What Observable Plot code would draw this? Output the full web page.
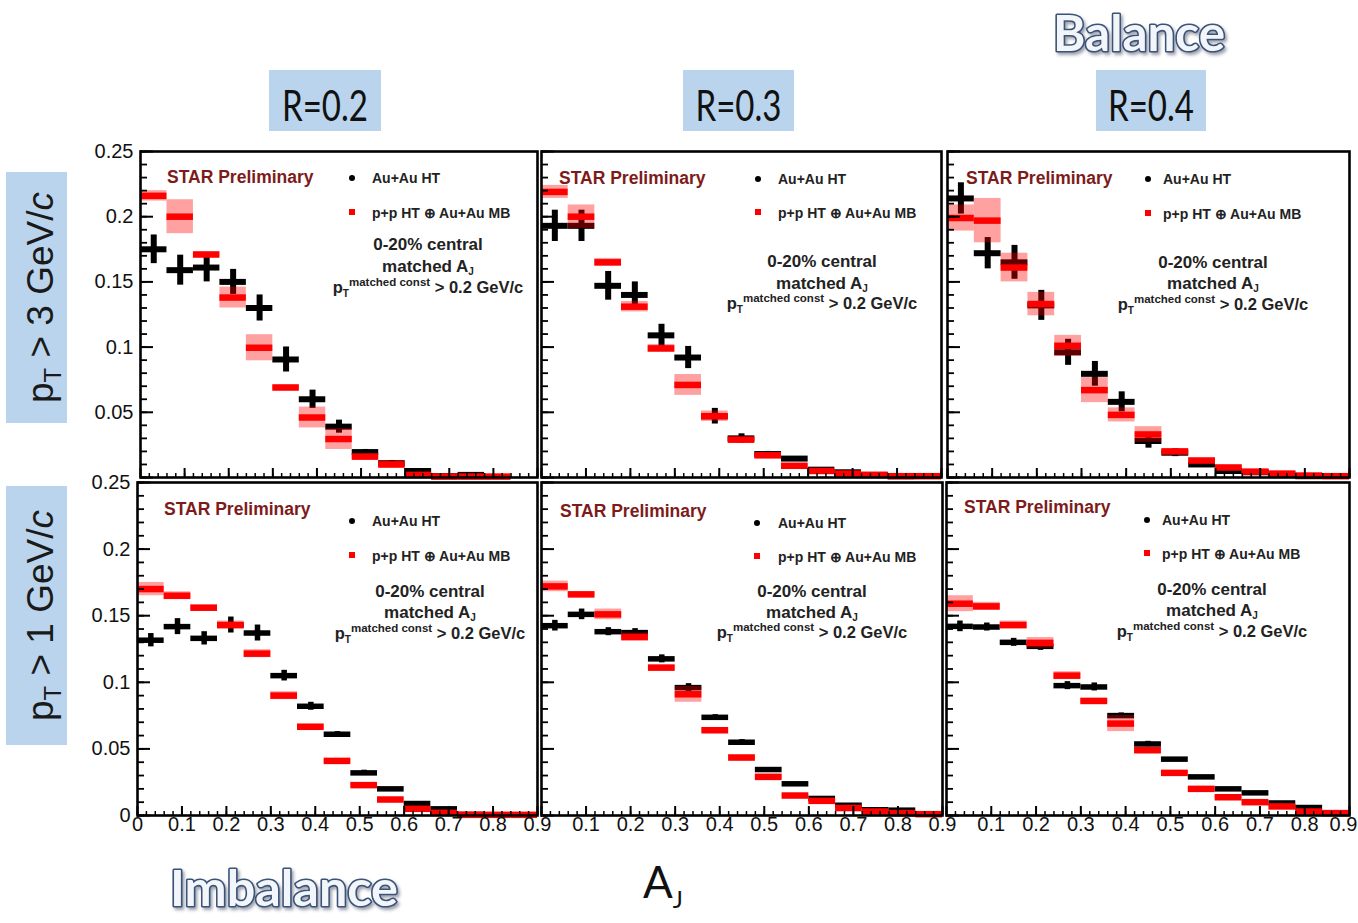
<!DOCTYPE html>
<html>
<head>
<meta charset="utf-8">
<script src="https://cdn.jsdelivr.net/npm/d3@7"></script>
<script src="https://cdn.jsdelivr.net/npm/@observablehq/plot@0.6"></script>
<style>
  body { margin: 0; background: #fff; }
  #page { position: relative; width: 1358px; height: 923px; overflow: hidden; background: #fff; }
  #page > svg { position: absolute; }
</style>
</head>
<body>
<div id="page"></div>
<script>
// ---- A_J binning (15 bins of width 0.06 between 0 and 0.9) ----
const ajBinCenters = [0.03, 0.09, 0.15, 0.21, 0.27, 0.33, 0.39, 0.45, 0.51, 0.57, 0.63, 0.69, 0.75, 0.81, 0.87];
const ajBinWidth = 0.06;

// ---- axis ticks ----
const yTickValues = [0, 0.05, 0.1, 0.15, 0.2, 0.25];
const xTickValues = [0, 0.1, 0.2, 0.3, 0.4, 0.5, 0.6, 0.7, 0.8, 0.9];

// ---- row / column labels ----
const radiusLabels = ["R=0.2", "R=0.3", "R=0.4"];
const ptCutLabels = ["3", "1"];

// ---- R=0.2, constituent pT > 3 GeV/c ----
const auauHT_R02_pt3   = [0.175, 0.159, 0.161, 0.150, 0.130, 0.0905, 0.060, 0.039, 0.0195, 0.011, 0.005, 0.001, 0.002, null, null];
const auauStat_R02_pt3 = [0.011, 0.0115, 0.011, 0.0096, 0.010, 0.0096, 0.007, 0.005, 0.002, 0.002, 0.001, 0.001, 0.001, 0, 0];
const ppEmb_R02_pt3    = [0.216, 0.200, 0.171, 0.138, 0.0995, 0.069, 0.046, 0.0295, 0.016, 0.010, 0.002, 0.0007, 0.0007, 0.0007, null];
const ppSys_R02_pt3    = [0.004, 0.013, 0.002, 0.008, 0.010, 0.002, 0.008, 0.008, 0.002, 0.003, 0.001, 0, 0, 0, 0];

// ---- R=0.3, constituent pT > 3 GeV/c ----
const auauHT_R03_pt3   = [0.193, 0.193, 0.147, 0.140, 0.109, 0.092, 0.047, 0.030, 0.018, 0.0145, 0.006, 0.004, 0.002, 0.001, null];
const auauStat_R03_pt3 = [0.012, 0.012, 0.011, 0.010, 0.0085, 0.0085, 0.006, 0.0035, 0.002, 0.0015, 0.001, 0.001, 0.001, 0, 0];
const ppEmb_R03_pt3    = [0.219, 0.200, 0.165, 0.131, 0.099, 0.071, 0.047, 0.029, 0.017, 0.009, 0.005, 0.003, 0.002, 0.001, 0.001];
const ppSys_R03_pt3    = [0.005, 0.009, 0.003, 0.004, 0.003, 0.008, 0.004, 0.002, 0.002, 0.001, 0.001, 0.001, 0, 0, 0];

// ---- R=0.4, constituent pT > 3 GeV/c ----
const auauHT_R04_pt3   = [0.214, 0.172, 0.165, 0.132, 0.096, 0.0795, 0.058, 0.028, 0.019, 0.010, 0.005, 0.004, 0.0025, 0.001, null];
const auauStat_R04_pt3 = [0.012, 0.012, 0.013, 0.0115, 0.010, 0.0095, 0.0077, 0.0055, 0.003, 0.002, 0.001, 0.001, 0, 0, 0];
const ppEmb_R04_pt3    = [0.199, 0.197, 0.161, 0.133, 0.101, 0.067, 0.048, 0.033, 0.020, 0.013, 0.0077, 0.0045, 0.003, 0.0015, 0.001];
const ppSys_R04_pt3    = [0.010, 0.017, 0.011, 0.009, 0.008, 0.0096, 0.0054, 0.006, 0.002, 0.002, 0.001, 0.001, 0, 0, 0];

// ---- R=0.2, constituent pT > 1 GeV/c ----
const auauHT_R02_pt1   = [0.1316, 0.1418, 0.133, 0.143, 0.137, 0.105, 0.082, 0.061, 0.032, 0.020, 0.009, 0.005, 0.0008, null, null];
const auauStat_R02_pt1 = [0.005, 0.006, 0.005, 0.006, 0.006, 0.004, 0.003, 0.002, 0.002, 0.001, 0.001, 0.001, 0, 0, 0];
const ppEmb_R02_pt1    = [0.170, 0.165, 0.156, 0.143, 0.1215, 0.090, 0.0666, 0.041, 0.0228, 0.012, 0.005, 0.002, 0.0005, 0.0005, 0.0005];
const ppSys_R02_pt1    = [0.005, 0.003, 0.002, 0.003, 0.003, 0.003, 0.002, 0.001, 0.001, 0.001, 0.001, 0, 0, 0, 0];

// ---- R=0.3, constituent pT > 1 GeV/c ----
const auauHT_R03_pt1   = [0.1425, 0.151, 0.138, 0.1373, 0.1176, 0.096, 0.0737, 0.055, 0.0345, 0.0238, 0.0128, 0.0077, 0.0043, 0.004, null];
const auauStat_R03_pt1 = [0.004, 0.004, 0.003, 0.003, 0.003, 0.003, 0.002, 0.002, 0.001, 0.001, 0.001, 0.001, 0, 0, 0];
const ppEmb_R03_pt1    = [0.172, 0.166, 0.151, 0.134, 0.111, 0.091, 0.064, 0.0435, 0.029, 0.015, 0.011, 0.0056, 0.003, 0.0018, 0.001];
const ppSys_R03_pt1    = [0.004, 0.002, 0.004, 0.003, 0.002, 0.006, 0.002, 0.002, 0.002, 0.001, 0.001, 0.001, 0, 0, 0];

// ---- R=0.4, constituent pT > 1 GeV/c ----
const auauHT_R04_pt1   = [0.142, 0.1415, 0.130, 0.127, 0.0975, 0.0965, 0.075, 0.0537, 0.0423, 0.029, 0.020, 0.017, 0.0094, 0.006, null];
const auauStat_R04_pt1 = [0.004, 0.003, 0.003, 0.003, 0.003, 0.003, 0.002, 0.002, 0.001, 0.001, 0.001, 0.001, 0.001, 0, 0];
const ppEmb_R04_pt1    = [0.159, 0.157, 0.143, 0.1296, 0.105, 0.086, 0.069, 0.049, 0.032, 0.020, 0.0137, 0.010, 0.0068, 0.003, 0.0018];
const ppSys_R04_pt1    = [0.006, 0.003, 0.003, 0.004, 0.003, 0.002, 0.006, 0.002, 0.001, 0.001, 0.001, 0.001, 0, 0, 0];

// ---- panel definitions: data series + frame placement on the page ----
const panels = [
  {row: 0, col: 0, auau: auauHT_R02_pt3, auauErr: auauStat_R02_pt3, pp: ppEmb_R02_pt3, ppErr: ppSys_R02_pt3,
   frame: [140, 151, 537, 477], note: {star: [27, 26], leg: [212, 27, 61, 20], block: [288, 93, 115, 136]}},
  {row: 0, col: 1, auau: auauHT_R03_pt3, auauErr: auauStat_R03_pt3, pp: ppEmb_R03_pt3, ppErr: ppSys_R03_pt3,
   frame: [541, 151, 941, 477], note: {star: [18, 27], leg: [217, 28, 61, 20], block: [281, 110, 132, 152]}},
  {row: 0, col: 2, auau: auauHT_R04_pt3, auauErr: auauStat_R04_pt3, pp: ppEmb_R04_pt3, ppErr: ppSys_R04_pt3,
   frame: [947, 151, 1349, 477], note: {star: [19, 27], leg: [201, 28, 62, 15], block: [266, 111, 132, 153]}},
  {row: 1, col: 0, auau: auauHT_R02_pt1, auauErr: auauStat_R02_pt1, pp: ppEmb_R02_pt1, ppErr: ppSys_R02_pt1,
   frame: [137, 482, 537, 815], note: {star: [27, 27], leg: [215, 39, 73, 20], block: [293, 109, 130, 151]}},
  {row: 1, col: 1, auau: auauHT_R03_pt1, auauErr: auauStat_R03_pt1, pp: ppEmb_R03_pt1, ppErr: ppSys_R03_pt1,
   frame: [541, 482, 942, 815], note: {star: [19, 29], leg: [216, 41, 74, 21], block: [271, 109, 130, 150]}},
  {row: 1, col: 2, auau: auauHT_R04_pt1, auauErr: auauStat_R04_pt1, pp: ppEmb_R04_pt1, ppErr: ppSys_R04_pt1,
   frame: [946, 482, 1349, 815], note: {star: [18, 25], leg: [201, 38, 71, 15], block: [266, 107, 128, 149]}}
];

const sansFont = "Liberation Sans, Arial, Helvetica, sans-serif";
const slideFont = "Lato, 'Open Sans', sans-serif";
const page = document.getElementById("page");

// ---- page decorations: column / row labels and the slide captions ----
const deco = d3.select(page).append("svg")
  .attr("width", 1358).attr("height", 923)
  .style("left", "0px").style("top", "0px");

const defs = deco.append("defs");
defs.append("filter").attr("id", "soft-shadow")
  .attr("x", "-10%").attr("y", "-20%").attr("width", "130%").attr("height", "150%")
  .append("feDropShadow").attr("dx", 2).attr("dy", 2.5).attr("stdDeviation", 1.6)
  .attr("flood-color", "#2a3550").attr("flood-opacity", 0.45);

const radiusBoxes = [[269, 112], [683, 111], [1096, 110]];
radiusLabels.forEach((label, i) => {
  const [bx, bw] = radiusBoxes[i];
  deco.append("rect").attr("x", bx).attr("y", 70).attr("width", bw).attr("height", 61).attr("fill", "#b9d4ec");
  deco.append("text").attr("x", bx + bw / 2).attr("y", 121)
    .attr("text-anchor", "middle").attr("font-family", slideFont).attr("font-size", 42)
    .attr("textLength", 86).attr("lengthAdjust", "spacingAndGlyphs")
    .attr("fill", "#111").text(label);
});

const ptBoxes = [[172, 251], [486, 259]];
ptCutLabels.forEach((cut, i) => {
  const [by, bh] = ptBoxes[i];
  deco.append("rect").attr("x", 6).attr("y", by).attr("width", 61).attr("height", bh).attr("fill", "#b9d4ec");
  const t = deco.append("text")
    .attr("transform", `translate(53,${by + bh / 2}) rotate(-90)`)
    .attr("text-anchor", "middle").attr("font-family", sansFont).attr("font-size", 37).attr("fill", "#1a1a1a");
  t.append("tspan").text("p");
  t.append("tspan").attr("font-size", 24).attr("dy", 8).text("T");
  t.append("tspan").attr("dy", -8).text(` > ${cut} GeV/`);
  t.append("tspan").attr("font-style", "italic").text("c");
});

function wordArt(text, x, y, width) {
  deco.append("text").attr("x", x).attr("y", y)
    .attr("text-anchor", "middle").attr("font-family", slideFont).attr("font-weight", "bold")
    .attr("font-size", 50).attr("textLength", width).attr("lengthAdjust", "spacingAndGlyphs")
    .attr("fill", "#f2f6fb").attr("stroke", "#3a5277").attr("stroke-width", 3.2)
    .attr("paint-order", "stroke").attr("stroke-linejoin", "round")
    .attr("filter", "url(#soft-shadow)").text(text);
}
wordArt("Balance", 1139, 51, 172);
wordArt("Imbalance", 284, 906, 228);

const ajTitle = deco.append("text").attr("x", 643).attr("y", 898)
  .attr("font-family", slideFont).attr("font-size", 44).attr("fill", "#111");
ajTitle.append("tspan").text("A");
ajTitle.append("tspan").attr("font-size", 24).attr("dy", 10).text("J");

// ---- one STAR-style histogram panel ----
function binRows(vals, errs) {
  return ajBinCenters
    .map((c, i) => ({x: c, x1: c - ajBinWidth / 2, x2: c + ajBinWidth / 2, y: vals[i], e: errs[i]}))
    .filter(d => d.y != null);
}

function drawPanel(p) {
  const [fx0, fy0, fx1, fy1] = p.frame;
  const W = fx1 - fx0, H = fy1 - fy0;
  const mL = p.col === 0 ? 55 : 2;
  const mR = p.row === 0 ? 3 : 16;
  const mT = 12, mB = p.row === 0 ? 3 : 30;
  const au = binRows(p.auau, p.auauErr);
  const pp = binRows(p.pp, p.ppErr);
  const barW = p.row === 0 ? 6 : 5.5;

  const marks = [
    // Au+Au HT: statistical error bars and bin-wide markers
    Plot.ruleX(au, {x: "x", y1: d => d.y - d.e, y2: d => d.y + d.e, stroke: "#000", strokeWidth: barW}),
    Plot.ruleY(au, {y: "y", x1: "x1", x2: "x2", stroke: "#000", strokeWidth: barW}),
    // p+p HT embedded: systematic boxes and bin-wide markers
    Plot.rect(pp.filter(d => d.e > 0), {x1: "x1", x2: "x2", y1: d => d.y - d.e, y2: d => d.y + d.e,
      fill: "#ff0000", fillOpacity: 0.37}),
    Plot.ruleY(pp, {y: "y", x1: "x1", x2: "x2", stroke: "#ff0000", strokeWidth: 6.5}),
    // inward ticks along the left and bottom edges
    Plot.tickY(d3.range(0, 0.2501, 0.01), {y: d => d, stroke: "#000", strokeWidth: 1.8, insetRight: W - 7}),
    Plot.tickY(yTickValues, {y: d => d, stroke: "#000", strokeWidth: 2, insetRight: W - 13}),
    Plot.tickX(d3.range(0, 0.9001, 0.02), {x: d => d, stroke: "#000", strokeWidth: 1.5, insetTop: H - 4}),
    Plot.tickX(xTickValues, {x: d => d, stroke: "#000", strokeWidth: 2, insetTop: H - 9}),
    Plot.frame({stroke: "#000", strokeWidth: 2.6})
  ];
  if (p.col === 0) {
    // the zero label of the upper row sits under the lower panel, so only the lower row shows it
    const yLabels = p.row === 0 ? yTickValues.filter(v => v > 0) : yTickValues;
    marks.push(Plot.text(yLabels, {y: d => d, text: d => String(d), frameAnchor: "left", dx: -7,
      textAnchor: "end", fontSize: 20, fontFamily: sansFont, fill: "#111"}));
  }
  if (p.row === 1) {
    // neighbouring panels share the 0.9 / 0 boundary; the shared edge keeps the 0.9 label
    const xLabels = p.col === 0 ? xTickValues : xTickValues.filter(v => v > 0);
    const lastCol = p.col === 2;
    const inner = lastCol ? xLabels.filter(v => v < 0.9) : xLabels;
    marks.push(Plot.text(inner, {x: d => d, text: d => String(d), frameAnchor: "bottom", dy: 15,
      fontSize: 20, fontFamily: sansFont, fill: "#111"}));
    if (lastCol) {
      // the rightmost label is nudged inward so it stays on the page
      marks.push(Plot.text([0.9], {x: d => d, text: d => String(d), frameAnchor: "bottom", dy: 15, dx: -6,
        fontSize: 20, fontFamily: sansFont, fill: "#111"}));
    }
  }

  const svg = Plot.plot({
    width: W + mL + mR, height: H + mT + mB,
    marginLeft: mL, marginRight: mR, marginTop: mT, marginBottom: mB,
    x: {domain: [0, 0.9], axis: null},
    y: {domain: [0, 0.25], axis: null},
    marks
  });
  svg.style.position = "absolute";
  svg.style.left = (fx0 - mL) + "px";
  svg.style.top = (fy0 - mT) + "px";
  svg.style.background = "transparent";
  svg.style.overflow = "hidden";
  svg.style.maxWidth = "none";

  // in-frame annotations and legend
  const n = p.note;
  const g = d3.select(svg).append("g")
    .attr("transform", `translate(${mL},${mT})`)
    .attr("text-anchor", "start")
    .attr("font-family", sansFont).attr("font-weight", "bold");
  g.append("text").attr("x", n.star[0]).attr("y", n.star[1] + 6)
    .attr("font-size", 17.5).attr("fill", "#7d1b1b").text("STAR Preliminary");
  g.append("circle").attr("cx", n.leg[0]).attr("cy", n.leg[1]).attr("r", 3).attr("fill", "#000");
  g.append("text").attr("x", n.leg[0] + n.leg[3]).attr("y", n.leg[1] + 5)
    .attr("font-size", 14).attr("fill", "#222").text("Au+Au HT");
  g.append("rect").attr("x", n.leg[0] - 3).attr("y", n.leg[2] - 3).attr("width", 6).attr("height", 6).attr("fill", "#ff0000");
  g.append("text").attr("x", n.leg[0] + n.leg[3]).attr("y", n.leg[2] + 6)
    .attr("font-size", 14).attr("fill", "#222").text("p+p HT \u2295 Au+Au MB");

  const [cx, l1, l2, l3] = n.block;
  g.append("text").attr("x", cx).attr("y", l1 + 6).attr("text-anchor", "middle")
    .attr("font-size", 17).attr("fill", "#222").text("0-20% central");
  const t2 = g.append("text").attr("x", cx).attr("y", l2 + 6).attr("text-anchor", "middle")
    .attr("font-size", 17).attr("fill", "#222");
  t2.append("tspan").text("matched A");
  t2.append("tspan").attr("font-size", 10).attr("dy", 3).text("J");
  const t3 = g.append("text").attr("x", cx).attr("y", l3 + 6).attr("text-anchor", "middle")
    .attr("font-size", 16.5).attr("fill", "#222");
  t3.append("tspan").text("p");
  t3.append("tspan").attr("font-size", 10).attr("dy", 4).text("T");
  t3.append("tspan").attr("font-size", 11.5).attr("dy", -11).text("matched const");
  t3.append("tspan").attr("dy", 7).text(" > 0.2 GeV/c");

  page.appendChild(svg);
}

panels.forEach(drawPanel);
</script>
</body>
</html>
